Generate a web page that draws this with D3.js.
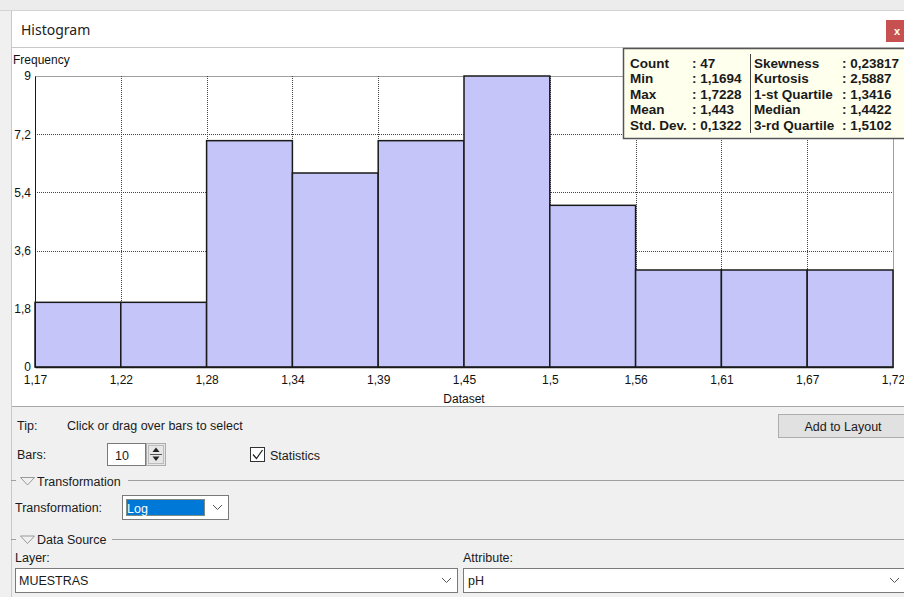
<!DOCTYPE html>
<html>
<head>
<meta charset="utf-8">
<script src="https://cdn.jsdelivr.net/npm/d3@7"></script>
<style>
html,body{margin:0;padding:0;background:#f0f0f0;}
svg{display:block;}
text{font-family:"Liberation Sans",Arial,sans-serif;}
</style>
</head>
<body>
<svg id="c" width="904" height="597"></svg>
<script>
// ---- data ----
const binCounts = [2, 2, 7, 6, 7, 9, 5, 3, 3, 3];
const dataMin = 1.1694;
const dataMax = 1.7228;
const xTickLabels = ["1,17","1,22","1,28","1,34","1,39","1,45","1,5","1,56","1,61","1,67","1,72"];
const yTicks = [0, 1.8, 3.6, 5.4, 7.2, 9];
const statNamesL = ["Count","Min","Max","Mean","Std. Dev."];
const statValsL = [": 47",": 1,1694",": 1,7228",": 1,443",": 0,1322"];
const statNamesR = ["Skewness","Kurtosis","1-st Quartile","Median","3-rd Quartile"];
const statValsR = [": 0,23817",": 2,5887",": 1,3416",": 1,4422",": 1,5102"];

const svg = d3.select("#c");
const W = 904, H = 597;

// ---- window chrome ----
svg.append("rect").attr("width",W).attr("height",H).attr("fill","#f0f0f0");
svg.append("rect").attr("x",0).attr("y",0).attr("width",W).attr("height",10).attr("fill","#ececec");
svg.append("line").attr("x1",0).attr("x2",W).attr("y1",10.5).attr("y2",10.5).attr("stroke","#d4d4d4");
svg.append("rect").attr("x",11).attr("y",11).attr("width",W-11).attr("height",H-11).attr("fill","#f0f0f0");
svg.append("line").attr("x1",11.5).attr("x2",11.5).attr("y1",11).attr("y2",H).attr("stroke","#c8c8c8");
// title bar
svg.append("rect").attr("x",12).attr("y",11).attr("width",W-12).attr("height",36).attr("fill","#ffffff");
svg.append("text").attr("x",21).attr("y",35).attr("font-size",14).attr("fill","#222")
  .style("font-family","'Noto Sans','Open Sans',sans-serif").text("Histogram");
svg.append("line").attr("x1",12).attr("x2",W).attr("y1",47.5).attr("y2",47.5).attr("stroke","#c8c8c8");
// close button
svg.append("rect").attr("x",886).attr("y",20).attr("width",18).attr("height",22).attr("fill","#c75050");
svg.append("text").attr("x",897).attr("y",35).attr("font-size",11).attr("font-weight","bold")
  .attr("fill","#fff").attr("text-anchor","middle").text("x");

// chart area
svg.append("rect").attr("x",12).attr("y",48).attr("width",W-12).attr("height",358).attr("fill","#ffffff");
svg.append("line").attr("x1",12).attr("x2",W).attr("y1",406.5).attr("y2",406.5).attr("stroke","#a8a8a8");

// ---- plot ----
const pl = 35, pr = 893, pt = 76, pb = 367;
const edges = d3.range(binCounts.length + 1).map(i => dataMin + i * (dataMax - dataMin) / binCounts.length);
const x = d3.scaleLinear().domain([dataMin, dataMax]).range([pl, pr]);
const y = d3.scaleLinear().domain([0, 9]).range([pb, pt]);

const g = svg.append("g");
// frame
g.append("rect").attr("x",pl+0.5).attr("y",pt+0.5).attr("width",pr-pl).attr("height",pb-pt)
  .attr("fill","none").attr("stroke","#a0a0a0");
// grid
g.selectAll(".hg").data(yTicks.filter(d => d > 0 && d < 9)).join("line")
  .attr("x1",pl).attr("x2",pr).attr("y1",d => Math.round(y(d))+0.5).attr("y2",d => Math.round(y(d))+0.5)
  .attr("stroke","#444").attr("stroke-dasharray","1,1");
g.selectAll(".vg").data(edges.slice(1, -1)).join("line")
  .attr("x1",d => Math.round(x(d))+0.5).attr("x2",d => Math.round(x(d))+0.5).attr("y1",pt).attr("y2",pb)
  .attr("stroke","#444").attr("stroke-dasharray","1,1");
// bars
g.selectAll(".bar").data(binCounts).join("rect")
  .attr("x",(d,i) => x(edges[i])).attr("width",(d,i) => x(edges[i+1]) - x(edges[i]))
  .attr("y",d => y(d)).attr("height",d => y(0) - y(d))
  .attr("fill","#c5c5fa").attr("stroke","#1a1a1a").attr("stroke-width",1.5);

// axes
const xAxis = d3.axisBottom(x).tickValues(edges).tickFormat((d,i) => xTickLabels[i]).tickSize(0).tickPadding(8);
const xg = svg.append("g").attr("transform",`translate(0,${pb})`).call(xAxis);
xg.select(".domain").attr("stroke","#1a1a1a").attr("stroke-width",1.5);
xg.selectAll("text").attr("font-size",12).attr("fill","#111").style("font-family","'Liberation Sans',Arial,sans-serif");

const yAxis = d3.axisLeft(y).tickValues(yTicks).tickFormat(d => String(d).replace(".", ",")).tickSize(0).tickPadding(4);
const yg = svg.append("g").attr("transform",`translate(${pl},0)`).call(yAxis);
yg.select(".domain").attr("stroke","#1a1a1a").attr("stroke-width",1);
yg.selectAll("text").attr("font-size",12).attr("fill","#111").style("font-family","'Liberation Sans',Arial,sans-serif");

svg.append("text").attr("x",13).attr("y",64).attr("font-size",12).attr("fill","#111").text("Frequency");
svg.append("text").attr("x",(pl+pr)/2).attr("y",403).attr("font-size",12).attr("fill","#111")
  .attr("text-anchor","middle").text("Dataset");

// stats box
const sb = svg.append("g");
sb.append("rect").attr("x",623.5).attr("y",48.5).attr("width",300).attr("height",90)
  .attr("fill","#ffffee").attr("stroke","#555").attr("stroke-width",1.5);
sb.append("line").attr("x1",750.5).attr("x2",750.5).attr("y1",54).attr("y2",133).attr("stroke","#444");
const rowY = [67.5, 83, 98.5, 114, 129.5];
const bold = s => s.attr("font-size",13.5).attr("font-weight","bold").attr("fill","#1a1a1a");
bold(sb.selectAll(".nl").data(statNamesL).join("text").attr("x",630).attr("y",(d,i)=>rowY[i]).text(d=>d));
bold(sb.selectAll(".vl").data(statValsL).join("text").attr("x",692).attr("y",(d,i)=>rowY[i]).text(d=>d));
bold(sb.selectAll(".nr").data(statNamesR).join("text").attr("x",754).attr("y",(d,i)=>rowY[i]).text(d=>d));
bold(sb.selectAll(".vr").data(statValsR).join("text").attr("x",842).attr("y",(d,i)=>rowY[i]).text(d=>d));

// ---- controls ----
const ui = svg.append("g").attr("font-size",12.5).attr("fill","#1a1a1a");
const t = (xx, yy, s) => ui.append("text").attr("x",xx).attr("y",yy).text(s);
t(17, 430, "Tip:");
t(67, 430, "Click or drag over bars to select");
// Add to Layout button
ui.append("rect").attr("x",778.5).attr("y",414.5).attr("width",140).attr("height",23).attr("fill","#e1e1e1").attr("stroke","#adadad");
ui.append("text").attr("x",843).attr("y",430.5).attr("text-anchor","middle").text("Add to Layout");
// Bars spinbox
t(17, 459, "Bars:");
ui.append("rect").attr("x",107.5).attr("y",443.5).attr("width",38).attr("height",22).attr("fill","#fff").attr("stroke","#7a7a7a");
t(115, 459.5, "10");
ui.append("rect").attr("x",146.5).attr("y",443.5).attr("width",19).attr("height",22).attr("fill","#e6e6e6").attr("stroke","#adadad");
ui.append("rect").attr("x",148.5).attr("y",445.5).attr("width",15).attr("height",18).attr("fill","none").attr("stroke","#bcbcbc");
ui.append("path").attr("d","M152.5,452 L156,447.5 L159.5,452 Z").attr("fill","#222");
ui.append("path").attr("d","M152.5,456.5 L156,461 L159.5,456.5 Z").attr("fill","#222");
ui.append("line").attr("x1",150).attr("x2",162).attr("y1",454.5).attr("y2",454.5).attr("stroke","#555");
// Statistics checkbox
ui.append("rect").attr("x",250.5).attr("y",447.5).attr("width",14).attr("height",14).attr("fill","#fff").attr("stroke","#333");
ui.append("path").attr("d","M253,454.5 L256.5,458.5 L262.5,450").attr("fill","none").attr("stroke","#222").attr("stroke-width",1.3);
t(270, 460, "Statistics");
// Transformation group
ui.append("line").attr("x1",11).attr("x2",16).attr("y1",480.5).attr("y2",480.5).attr("stroke","#a0a0a0");
ui.append("path").attr("d","M20.5,477.5 L34.5,477.5 L27.5,485 Z").attr("fill","none").attr("stroke","#999");
t(37, 486, "Transformation");
ui.append("line").attr("x1",128).attr("x2",W).attr("y1",480.5).attr("y2",480.5).attr("stroke","#a0a0a0");
t(15, 512, "Transformation:");
ui.append("rect").attr("x",122.5).attr("y",495.5).attr("width",106).attr("height",24).attr("fill","#fff").attr("stroke","#7a7a7a");
ui.append("rect").attr("x",126).attr("y",499).attr("width",79).attr("height",17).attr("fill","#0078d7");
ui.append("rect").attr("x",126.5).attr("y",499.5).attr("width",78).attr("height",16).attr("fill","none")
  .attr("stroke","#f7a030").attr("stroke-dasharray","1,1");
ui.append("text").attr("x",127).attr("y",513).attr("fill","#fff").text("Log");
ui.append("path").attr("d","M213,505 L217.5,509.5 L222,505").attr("fill","none").attr("stroke","#555");
// Data Source group
ui.append("line").attr("x1",11).attr("x2",16).attr("y1",539.5).attr("y2",539.5).attr("stroke","#a0a0a0");
ui.append("path").attr("d","M20.5,536 L34.5,536 L27.5,543.5 Z").attr("fill","none").attr("stroke","#999");
t(37, 544, "Data Source");
ui.append("line").attr("x1",112).attr("x2",W).attr("y1",539.5).attr("y2",539.5).attr("stroke","#a0a0a0");
t(15, 562, "Layer:");
t(463, 562, "Attribute:");
ui.append("rect").attr("x",15.5).attr("y",568.5).attr("width",442).attr("height",24).attr("fill","#fff").attr("stroke","#7a7a7a");
t(19, 585, "MUESTRAS");
ui.append("path").attr("d","M442,578 L446.5,582.5 L451,578").attr("fill","none").attr("stroke","#555");
ui.append("rect").attr("x",463.5).attr("y",568.5).attr("width",450).attr("height",24).attr("fill","#fff").attr("stroke","#7a7a7a");
t(468, 585, "pH");
ui.append("path").attr("d","M890,578 L894.5,582.5 L899,578").attr("fill","none").attr("stroke","#555");
</script>
</body>
</html>
